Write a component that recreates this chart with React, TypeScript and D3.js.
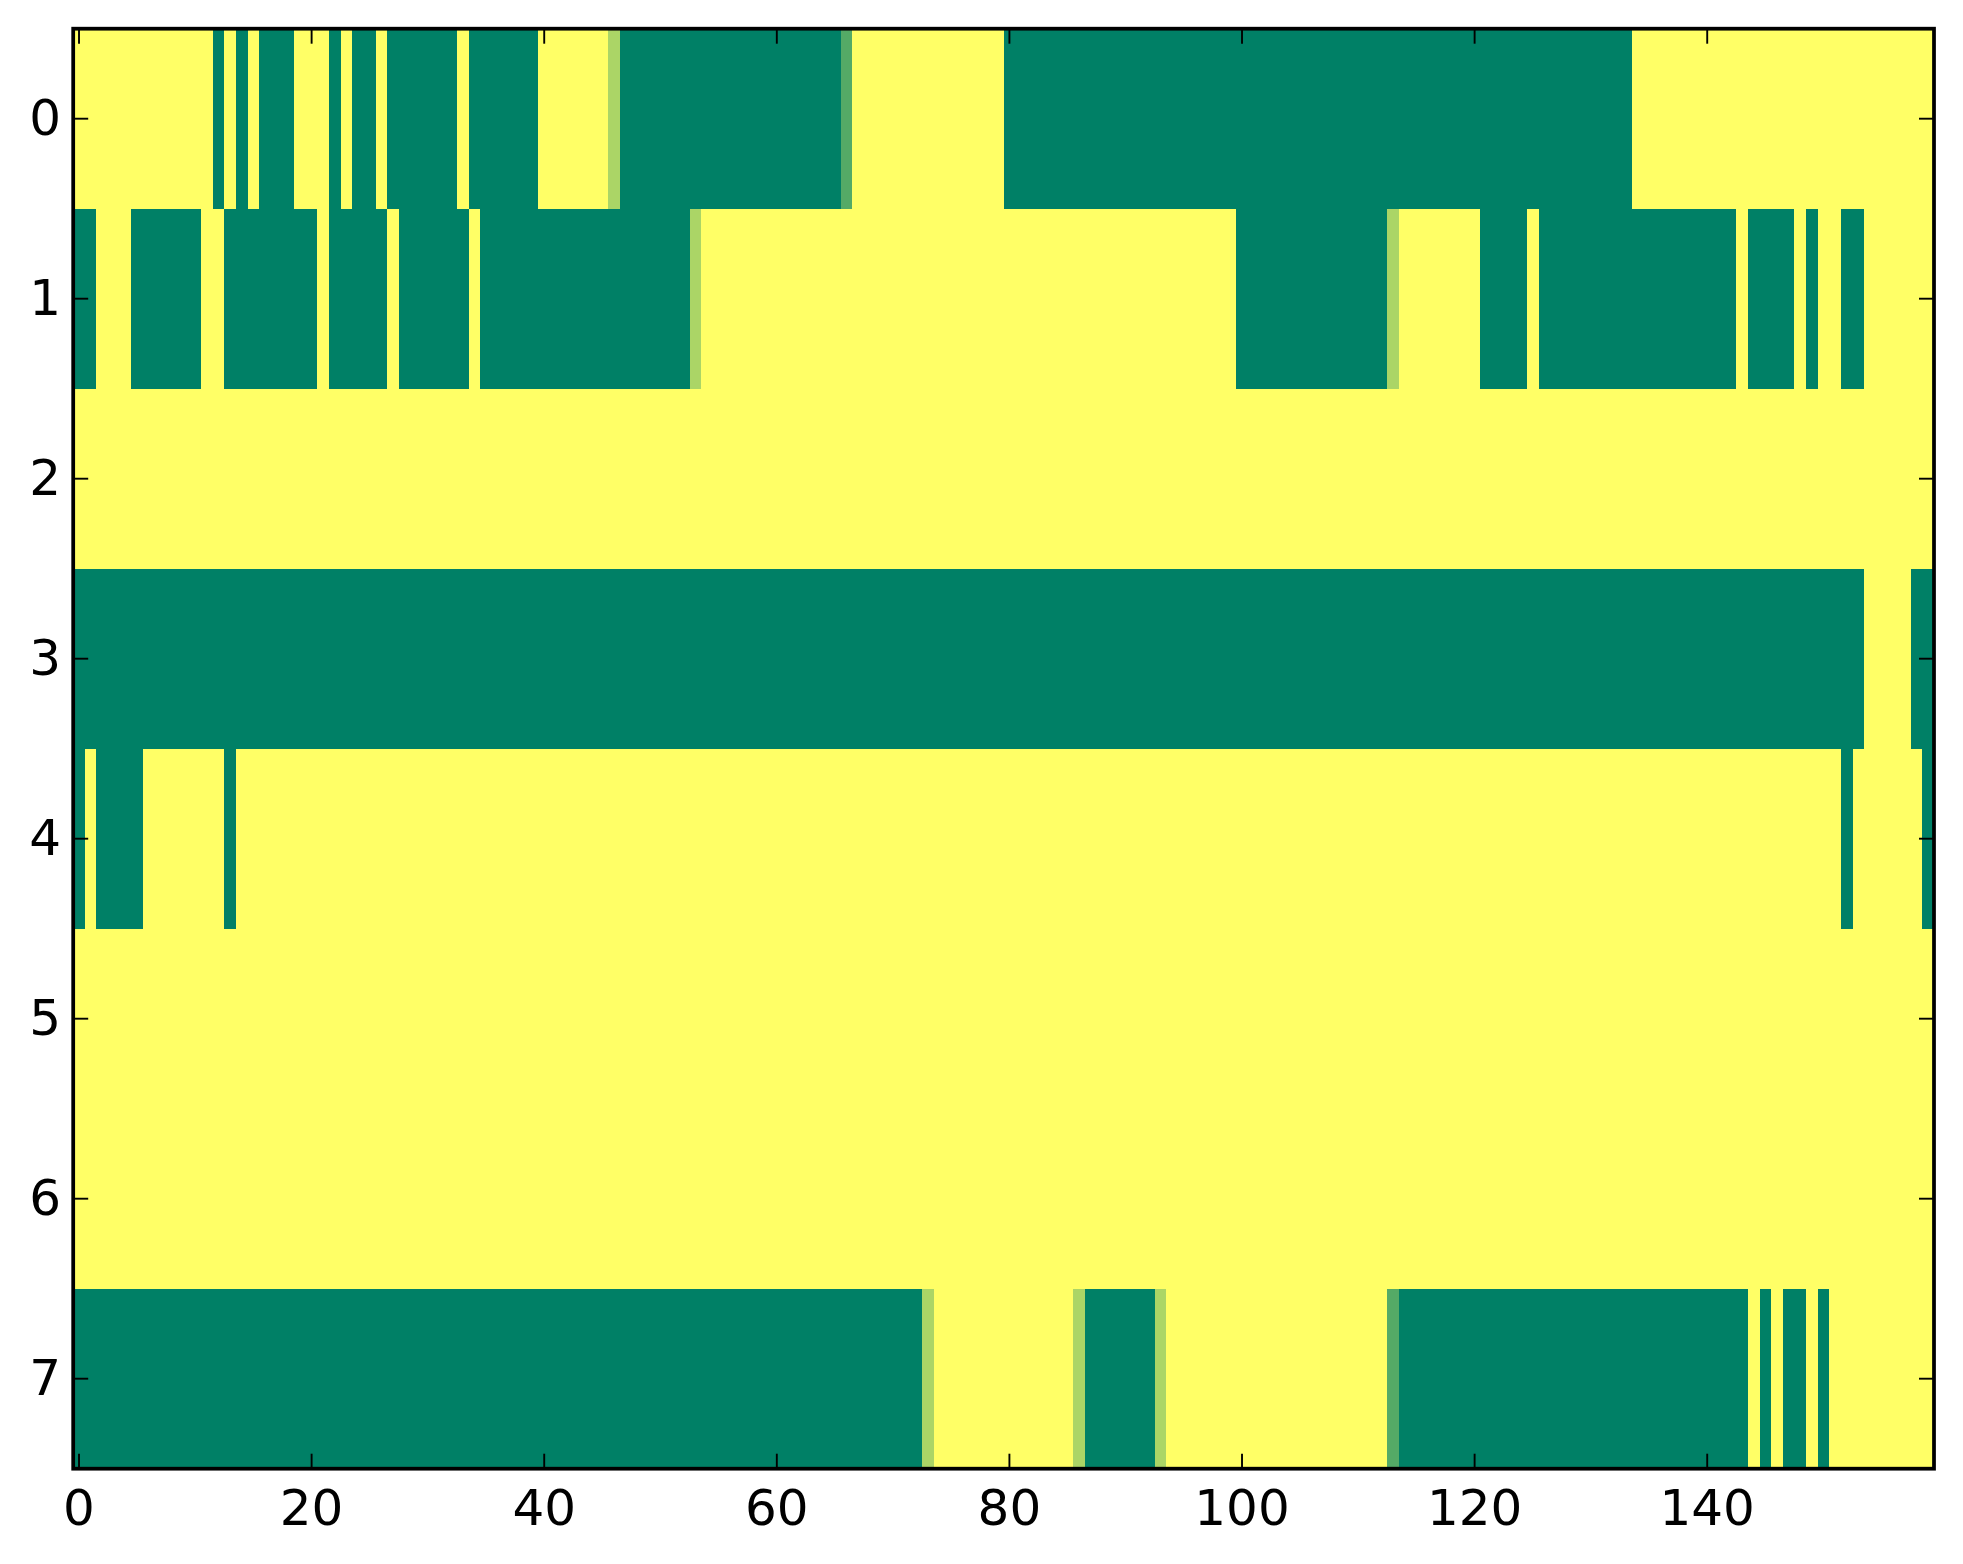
import React from "react";
import * as d3 from "d3";

// Each row: run-length pairs [value, count]; 1 = top of colormap (yellow), 0 = bottom (green)
const row0: [number, number][] = [
  [1, 12], [0, 1], [1, 1], [0, 1], [1, 1], [0, 3], [1, 3], [0, 1], [1, 1], [0, 2], [1, 1],
  [0, 6], [1, 1], [0, 6], [1, 6], [0.67, 1], [0, 19], [0.33, 1], [1, 13], [0, 54], [1, 26],
];
const row1: [number, number][] = [
  [0, 2], [1, 3], [0, 6], [1, 2], [0, 8], [1, 1], [0, 5], [1, 1], [0, 6], [1, 1], [0, 18],
  [0.67, 1], [1, 46], [0, 13], [0.67, 1], [1, 7], [0, 4], [1, 1], [0, 17], [1, 1], [0, 4],
  [1, 1], [0, 1], [1, 2], [0, 2], [1, 6],
];
const row2: [number, number][] = [[1, 160]];
const row3: [number, number][] = [[0, 154], [1, 4], [0, 2]];
const row4: [number, number][] = [
  [0, 1], [1, 1], [0, 4], [1, 7], [0, 1], [1, 138], [0, 1], [1, 6], [0, 1],
];
const row5: [number, number][] = [[1, 160]];
const row6: [number, number][] = [[1, 160]];
const row7: [number, number][] = [
  [0, 73], [0.67, 1], [1, 12], [0.67, 1], [0, 6], [0.67, 1], [1, 19], [0.33, 1], [0, 30],
  [1, 1], [0, 1], [1, 1], [0, 2], [1, 1], [0, 1], [1, 9],
];
const rows = [row0, row1, row2, row3, row4, row5, row6, row7];
const nCols = 160;
const xTicks = [0, 20, 40, 60, 80, 100, 120, 140];
const yTicks = [0, 1, 2, 3, 4, 5, 6, 7];

const W = 1963;
const H = 1564;
const L = 73.2;
const R = 1934;
const T = 28.7;
const B = 1468.7;
const FONT = "'DejaVu Sans', sans-serif";
const FS = 50;
const TICK = 15;

export default function App() {
  const x = d3.scaleLinear().domain([-0.5, nCols - 0.5]).range([L, R]);
  const y = d3.scaleLinear().domain([-0.5, rows.length - 0.5]).range([T, B]);
  const color = d3.scaleLinear<string>().domain([0, 1]).range(["#008066", "#ffff66"]).interpolate(d3.interpolateRgb);

  const cells: React.ReactElement[] = [];
  rows.forEach((runs, r) => {
    let start = 0;
    runs.forEach(([v, n], k) => {
      const x0 = x(start - 0.5);
      const x1 = x(start + n - 0.5);
      cells.push(
        <rect
          key={`${r}-${k}`}
          x={x0}
          y={y(r - 0.5)}
          width={x1 - x0}
          height={y(r + 0.5) - y(r - 0.5)}
          fill={color(v)}
          shapeRendering="crispEdges"
        />
      );
      start += n;
    });
  });

  return (
    <svg width={W} height={H} style={{ position: "absolute", left: 0, top: 0, background: "#fff" }}>
      <rect x={0} y={0} width={W} height={H} fill="#fff" />
      {cells}
      {xTicks.map((t) => (
        <g key={`xt${t}`}>
          <line x1={x(t)} x2={x(t)} y1={B} y2={B - TICK} stroke="#000" strokeWidth={1.9} />
          <line x1={x(t)} x2={x(t)} y1={T} y2={T + TICK} stroke="#000" strokeWidth={1.9} />
          <text x={x(t)} y={1525} textAnchor="middle" fontFamily={FONT} fontSize={FS} fill="#000">
            {t}
          </text>
        </g>
      ))}
      {yTicks.map((t) => (
        <g key={`yt${t}`}>
          <line x1={L} x2={L + TICK} y1={y(t)} y2={y(t)} stroke="#000" strokeWidth={1.9} />
          <line x1={R} x2={R - TICK} y1={y(t)} y2={y(t)} stroke="#000" strokeWidth={1.9} />
          <text x={61} y={y(t) + 16} textAnchor="end" fontFamily={FONT} fontSize={FS} fill="#000">
            {t}
          </text>
        </g>
      ))}
      <rect x={L} y={T} width={R - L} height={B - T} fill="none" stroke="#000" strokeWidth={3.75} />
    </svg>
  );
}
